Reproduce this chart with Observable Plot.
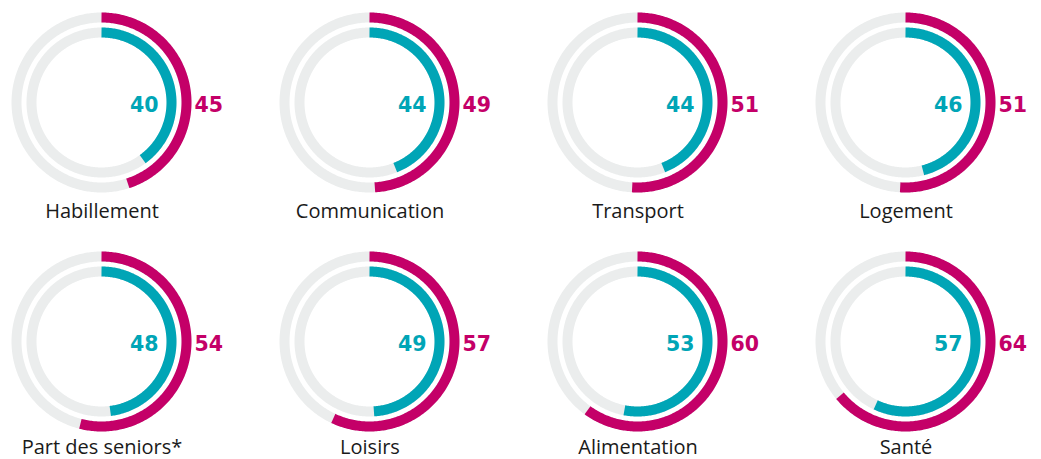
<!DOCTYPE html>
<html>
<head>
<meta charset="utf-8">
<script src="https://cdn.jsdelivr.net/npm/d3@7"></script>
<script src="https://cdn.jsdelivr.net/npm/@observablehq/plot@0.6"></script>
<style>
  html, body { margin: 0; padding: 0; background: #ffffff; }
  #chart svg { display: block; }
  #chart svg .num text { font-family: "DejaVu Sans", sans-serif; font-weight: bold; }
  #chart svg .lbl text { font-family: "Open Sans", sans-serif; }
</style>
</head>
<body>
<div id="chart"></div>
<script>
// ---- Data ----
const categories = ["Habillement", "Communication", "Transport", "Logement",
                    "Part des seniors*", "Loisirs", "Alimentation", "Santé"];
const outerValues = [45, 49, 51, 51, 54, 57, 60, 64];   // magenta ring
const innerValues = [40, 44, 44, 46, 48, 49, 53, 57];   // teal ring

// ---- Layout / style ----
const W = 1041, H = 459;
const colX0 = 101, colStep = 268;
const rowY0 = 102, rowStep = 239;
const rOuter = 85, rInner = 70, ringW = 10;
const magenta = "#C40068", teal = "#00A5B6", grey = "#EBEDED";

const centers = categories.map((c, i) => ({
  cat: c,
  row: Math.floor(i / 4),
  cx: colX0 + (i % 4) * colStep,
  cy: rowY0 + Math.floor(i / 4) * rowStep,
  outer: outerValues[i],
  inner: innerValues[i]
}));

function arcPoints(key, cx, cy, r, pct) {
  const pts = [];
  const step = 0.25;
  for (let p = 0; p < pct; p += step) pts.push(p);
  pts.push(pct);
  return pts.map(p => {
    const t = p / 100 * 2 * Math.PI;
    return {key, x: cx + r * Math.sin(t), y: cy - r * Math.cos(t)};
  });
}

const bgArcs = centers.flatMap((d, i) => [
  ...arcPoints("bo" + i, d.cx, d.cy, rOuter, 100),
  ...arcPoints("bi" + i, d.cx, d.cy, rInner, 100)
]);
const outerArcs = centers.flatMap((d, i) => arcPoints("o" + i, d.cx, d.cy, rOuter, d.outer));
const innerArcs = centers.flatMap((d, i) => arcPoints("i" + i, d.cx, d.cy, rInner, d.inner));

const lineOpts = {x: "x", y: "y", z: "key", strokeWidth: ringW, strokeLinecap: "butt", strokeLinejoin: "round"};

const chart = Plot.plot({
  width: W,
  height: H,
  margin: 0,
  x: {domain: [0, W], range: [0, W], axis: null},
  y: {domain: [0, H], range: [0, H], axis: null},
  marks: [
    Plot.line(bgArcs, {...lineOpts, stroke: grey}),
    Plot.line(outerArcs, {...lineOpts, stroke: magenta}),
    Plot.line(innerArcs, {...lineOpts, stroke: teal}),
    Plot.text(centers, {
      x: d => d.cx + 57, y: d => d.cy + 3, text: d => String(d.inner),
      textAnchor: "end", fill: teal, fontSize: 20.5, fontWeight: "bold",
      fontFamily: "DejaVu Sans", className: "num"
    }),
    Plot.text(centers, {
      x: d => d.cx + 93, y: d => d.cy + 3, text: d => String(d.outer),
      textAnchor: "start", fill: magenta, fontSize: 20.5, fontWeight: "bold",
      fontFamily: "DejaVu Sans", className: "num"
    }),
    Plot.text(centers, {
      x: d => d.cx + 0.5, y: d => d.cy + 109.5 - d.row * 3, text: "cat",
      textAnchor: "middle", fill: "#1a1a1a", fontSize: 20,
      fontFamily: "Open Sans", className: "lbl"
    })
  ]
});
document.getElementById("chart").appendChild(chart);
</script>
</body>
</html>
